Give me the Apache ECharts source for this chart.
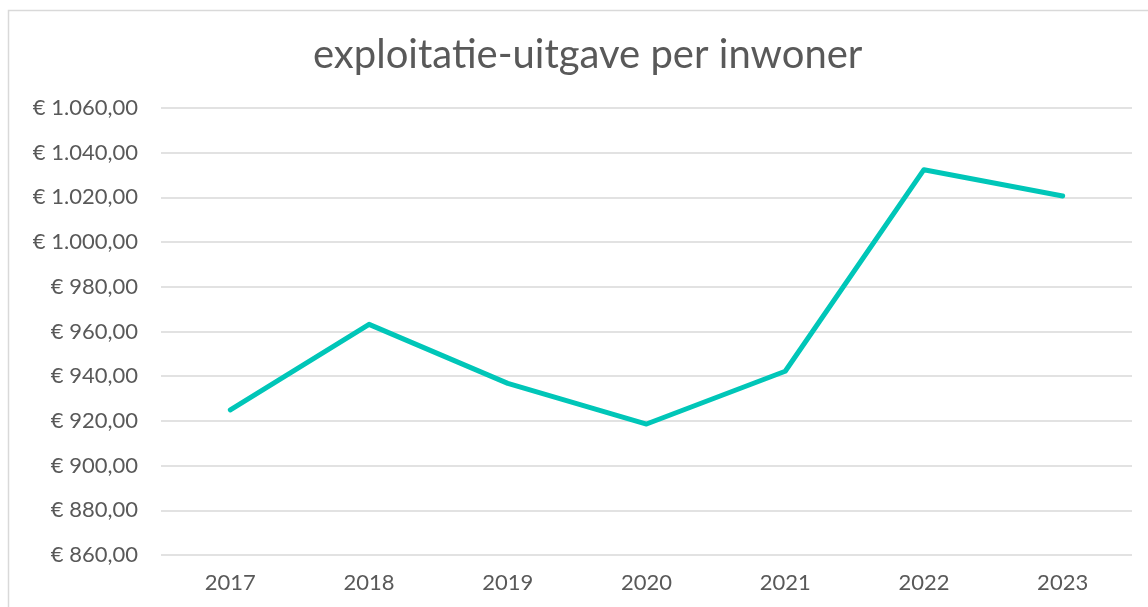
<!DOCTYPE html>
<html>
<head>
<meta charset="utf-8">
<script src="https://cdn.jsdelivr.net/npm/echarts@6/dist/echarts.min.js"></script>
<style>
  html, body { margin: 0; padding: 0; background: #fff; }
  #chart { width: 1148px; height: 607px; }
</style>
</head>
<body>
<div id="chart"></div>
<script>
  // data
  const years = ['2017', '2018', '2019', '2020', '2021', '2022', '2023'];
  const perInwoner = [924.9, 963.2, 936.8, 918.6, 942.2, 1032.4, 1020.6];
  const yMin = 860, yMax = 1060, yStep = 20;

  const fmt = v => '€ ' + v.toLocaleString('nl-NL', { minimumFractionDigits: 2, maximumFractionDigits: 2 });

  const chart = echarts.init(document.getElementById('chart'));
  chart.setOption({
    animation: false,
    textStyle: { fontFamily: 'Lato' },
    graphic: [{
      type: 'rect',
      shape: { x: 8.5, y: 10.5, width: 1160, height: 620 },
      style: { fill: 'none', stroke: '#d9d9d9', lineWidth: 1.5 },
      silent: true
    }],
    title: {
      text: 'exploitatie-uitgave per inwoner',
      left: 308,
      top: 30,
      textStyle: { fontFamily: 'Lato', fontWeight: 'normal', fontSize: 40, color: '#595959' }
    },
    grid: { left: 161, right: 16, top: 108, bottom: 52, containLabel: false },
    xAxis: {
      type: 'category',
      data: years,
      boundaryGap: true,
      axisLine: { show: false },
      axisTick: { show: false },
      axisLabel: { color: '#595959', fontSize: 22, margin: 17 }
    },
    yAxis: {
      type: 'value',
      min: yMin,
      max: yMax,
      interval: yStep,
      axisLine: { show: false },
      axisTick: { show: false },
      splitLine: { lineStyle: { color: '#d9d9d9', width: 1.5 } },
      axisLabel: { color: '#595959', fontSize: 22, margin: 23, formatter: fmt }
    },
    series: [{
      type: 'line',
      data: perInwoner,
      symbol: 'none',
      lineStyle: { color: '#00c6b8', width: 5, cap: 'round', join: 'round' }
    }]
  });
</script>
</body>
</html>
